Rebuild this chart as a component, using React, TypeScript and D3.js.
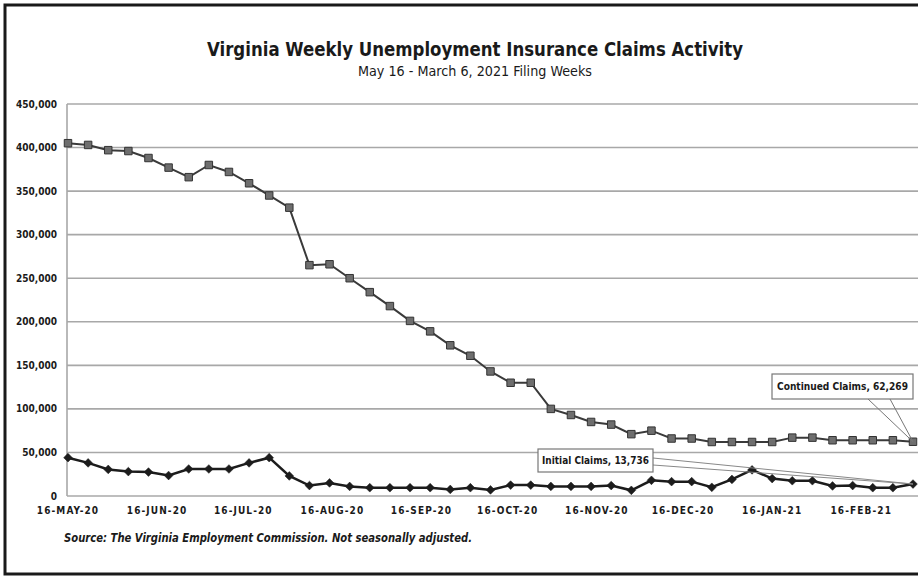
import React from 'react';
import * as d3 from 'd3';

// filing week-ending dates
const weeks = [
  '2020-05-16', '2020-05-23', '2020-05-30', '2020-06-06', '2020-06-13', '2020-06-20', '2020-06-27',
  '2020-07-04', '2020-07-11', '2020-07-18', '2020-07-25', '2020-08-01', '2020-08-08', '2020-08-15',
  '2020-08-22', '2020-08-29', '2020-09-05', '2020-09-12', '2020-09-19', '2020-09-26', '2020-10-03',
  '2020-10-10', '2020-10-17', '2020-10-24', '2020-10-31', '2020-11-07', '2020-11-14', '2020-11-21',
  '2020-11-28', '2020-12-05', '2020-12-12', '2020-12-19', '2020-12-26', '2021-01-02', '2021-01-09',
  '2021-01-16', '2021-01-23', '2021-01-30', '2021-02-06', '2021-02-13', '2021-02-20', '2021-02-27',
  '2021-03-06',
];

const continuedClaims = [
  405000, 403000, 397000, 396000, 388000, 377000, 366000, 380000, 372000, 359000, 345000, 331000,
  265000, 266000, 250000, 234000, 218000, 201000, 189000, 173000, 161000, 143000, 130000, 130000,
  100000, 93000, 85000, 82000, 71000, 75000, 66000, 66000, 62000, 62000, 62000, 62000, 67000,
  67000, 64000, 64000, 64000, 64000, 62269,
];

const initialClaims = [
  44000, 38000, 30500, 28000, 27500, 23500, 31000, 31000, 31000, 38000, 44000, 23000, 12000,
  15000, 11000, 9500, 9500, 9500, 9500, 7500, 9500, 7000, 12500, 12500, 11000, 11000, 11000,
  12000, 6500, 18000, 16500, 16500, 10000, 19000, 30000, 20000, 17500, 17500, 11500, 12000,
  9500, 9500, 13736,
];

const yTicks = [0, 50000, 100000, 150000, 200000, 250000, 300000, 350000, 400000, 450000];
const xTickDates = [
  '2020-05-16', '2020-06-16', '2020-07-16', '2020-08-16', '2020-09-16',
  '2020-10-16', '2020-11-16', '2020-12-16', '2021-01-16', '2021-02-16',
];

const title = 'Virginia Weekly Unemployment Insurance Claims Activity';
const subtitle = 'May 16 - March 6, 2021 Filing Weeks';
const source = 'Source: The Virginia Employment Commission. Not seasonally adjusted.';

const FONT = '"Liberation Sans Narrow", "DejaVu Sans Condensed", "Arial Narrow", sans-serif';

const parse = d3.timeParse('%Y-%m-%d');
const fmtTick = (d) => d3.timeFormat('%d-%b-%y')(d).toUpperCase();

const App = () => {
  const width = 918;
  const height = 579;
  const dates = weeks.map((w) => parse(w));

  const x = d3.scaleTime()
    .domain([dates[0], dates[dates.length - 1]])
    .range([68, 913]);
  const y = d3.scaleLinear().domain([0, 450000]).range([496, 104]);

  const line = d3.line()
    .x((d) => x(d[0]))
    .y((d) => y(d[1]));

  const contPts = dates.map((d, i) => [d, continuedClaims[i]]);
  const initPts = dates.map((d, i) => [d, initialClaims[i]]);

  const square = d3.symbol(d3.symbolSquare, 56)();
  const diamond = d3.symbol(d3.symbolSquare, 38)();

  const last = dates.length - 1;
  const cx = x(dates[last]);
  const cy = y(continuedClaims[last]);
  const iy = y(initialClaims[last]);

  return (
    <svg width={width} height={height} style={{ position: 'absolute', left: 0, top: 0, background: '#fff' }}>
      <rect x={5} y={5} width={width + 10} height={569} fill="#fff" stroke="#1a1a1a" strokeWidth={3} />

      <text x={475} y={56} textAnchor="middle" fontFamily={FONT} fontWeight="bold" fontSize={20}
        textLength={536} lengthAdjust="spacingAndGlyphs" fill="#1a1a1a">
        {title}
      </text>
      <text x={475} y={76} textAnchor="middle" fontFamily={FONT} fontSize={14.5}
        textLength={234} lengthAdjust="spacingAndGlyphs" fill="#1a1a1a">
        {subtitle}
      </text>

      {/* grid */}
      {yTicks.map((t) => (
        <g key={t}>
          <line x1={67} x2={918} y1={y(t)} y2={y(t)} stroke="#a8a8a8" strokeWidth={1.6} />
          <text x={57} y={y(t) + 3.5} textAnchor="end" fontFamily={FONT} fontWeight="bold" fontSize={10} fill="#1a1a1a">
            {d3.format(',')(t)}
          </text>
        </g>
      ))}
      <line x1={67} x2={67} y1={y(450000)} y2={y(0)} stroke="#a8a8a8" strokeWidth={1.6} />

      {xTickDates.map((t) => {
        const d = parse(t);
        return (
          <text key={t} x={x(d)} y={514} textAnchor="middle" fontFamily={FONT} fontWeight="bold"
            fontSize={10} letterSpacing={1.1} fill="#1a1a1a">
            {fmtTick(d)}
          </text>
        );
      })}

      {/* continued claims */}
      <path d={line(contPts)} fill="none" stroke="#3a3a3a" strokeWidth={2} />
      {contPts.map((p, i) => (
        <path key={i} d={square} transform={`translate(${x(p[0])},${y(p[1])})`}
          fill="#6e6e6e" stroke="#333" strokeWidth={1} />
      ))}

      {/* initial claims */}
      <path d={line(initPts)} fill="none" stroke="#1c1c1c" strokeWidth={2.5} />
      {initPts.map((p, i) => (
        <path key={i} d={diamond} transform={`translate(${x(p[0])},${y(p[1])}) rotate(45)`}
          fill="#1c1c1c" stroke="#1c1c1c" strokeWidth={0.5} />
      ))}

      {/* callouts */}
      <line x1={868} y1={399} x2={cx} y2={cy} stroke="#777" strokeWidth={1} />
      <line x1={890} y1={399} x2={cx} y2={cy} stroke="#777" strokeWidth={1} />
      <rect x={772} y={374} width={141} height={25} fill="#fff" stroke="#777" strokeWidth={1.2} />
      <text x={842.5} y={390} textAnchor="middle" fontFamily={FONT} fontWeight="bold" fontSize={10.5}
        textLength={131} lengthAdjust="spacingAndGlyphs" fill="#1a1a1a">
        {`Continued Claims, ${d3.format(',')(continuedClaims[last])}`}
      </text>

      <line x1={653} y1={458} x2={cx} y2={iy} stroke="#888" strokeWidth={1} />
      <line x1={653} y1={465} x2={cx} y2={iy} stroke="#888" strokeWidth={1} />
      <rect x={538} y={449} width={115} height={23} fill="#fff" stroke="#777" strokeWidth={1.2} />
      <text x={595.5} y={464} textAnchor="middle" fontFamily={FONT} fontWeight="bold" fontSize={10.5}
        textLength={107} lengthAdjust="spacingAndGlyphs" fill="#1a1a1a">
        {`Initial Claims, ${d3.format(',')(initialClaims[last])}`}
      </text>

      <text x={64} y={542} fontFamily={FONT} fontWeight="bold" fontStyle="italic" fontSize={13}
        textLength={408} lengthAdjust="spacingAndGlyphs" fill="#1a1a1a">
        {source}
      </text>
    </svg>
  );
};

export default App;
